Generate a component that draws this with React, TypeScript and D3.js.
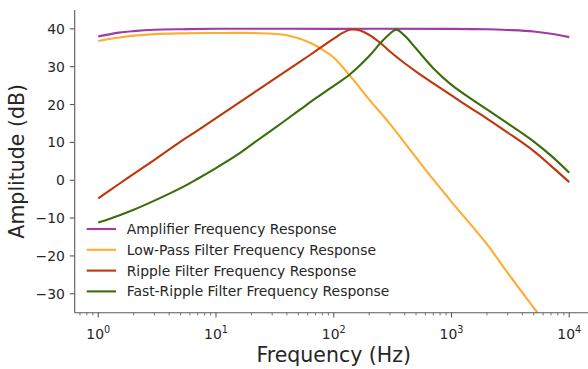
import * as d3 from 'd3';

const W = 588;
const H = 369;

// series (frequency in Hz, amplitude in dB)
const ampFreq = [1, 1.5, 2, 3, 5, 10, 100, 1000, 2000, 3000, 5000, 7000, 10000];
const ampDb = [38.0, 39.0, 39.4, 39.75, 39.9, 40, 40, 40, 39.9, 39.7, 39.3, 38.7, 37.8];

const lpFreq = [1, 1.5, 2, 3, 5, 10, 20, 30, 40, 50, 60, 70, 85, 100, 140, 200, 300, 500, 700, 1000, 2000, 3000, 5000, 7000];
const lpDb = [36.8, 37.7, 38.2, 38.6, 38.8, 38.9, 38.9, 38.7, 38.3, 37.5, 36.6, 35.6, 34.0, 32.4, 27.3, 21.3, 14.9, 6.0, 0.2, -5.7, -16.9, -24.5, -33.7, -39.5];

const rpFreq = [1, 1.5, 2, 3, 5, 7, 10, 20, 30, 50, 70, 100, 120, 140, 170, 200, 250, 300, 400, 500, 700, 1000, 1500, 2000, 3000, 5000, 7000, 10000];
const rpDb = [-4.8, -1.0, 1.7, 5.4, 10.2, 13.2, 16.4, 22.7, 26.4, 31.0, 34.1, 37.4, 39.0, 39.8, 39.5, 38.4, 36.2, 34.0, 30.9, 28.7, 25.6, 22.4, 18.8, 16.3, 12.6, 7.7, 3.8, -0.5];

const frFreq = [1, 1.5, 2, 3, 5, 7, 10, 15, 20, 30, 50, 70, 100, 140, 200, 250, 300, 340, 400, 500, 700, 1000, 1500, 2000, 3000, 5000, 7000, 10000];
const frDb = [-11.2, -9.3, -7.8, -5.4, -2.1, 0.4, 3.2, 6.6, 9.4, 13.3, 18.3, 21.6, 24.9, 28.2, 32.8, 36.3, 38.7, 39.8, 38.2, 34.8, 29.6, 25.2, 21.3, 18.7, 15.0, 10.2, 6.5, 2.0];

const seriesNames = [
  'Amplifier Frequency Response',
  'Low-Pass Filter Frequency Response',
  'Ripple Filter Frequency Response',
  'Fast-Ripple Filter Frequency Response',
];
const seriesColors = ['#a03aa6', '#ffac33', '#bf360c', '#3b6e0b'];
const seriesFreqs = [ampFreq, lpFreq, rpFreq, frFreq];
const seriesDb = [ampDb, lpDb, rpDb, frDb];

const xTickExps = [0, 1, 2, 3, 4];
const yTicks = [-30, -20, -10, 0, 10, 20, 30, 40];

const FONT = "'DejaVu Sans', sans-serif";
const TEXT = '#262626';
const AXIS = '#5a5a5a';

export default function App() {
  const left = 74.7;
  const top = 9.9;
  const bottom = 312.7;
  const right = 592.8;

  const x = d3.scaleLog().domain([10 ** -0.2, 10 ** 4.2]).range([left, right]);
  const y = d3.scaleLinear().domain([-35, 45]).range([bottom, top]);

  const minor: number[] = [];
  for (let e = -1; e <= 4; e++) {
    for (let m = 2; m <= 9; m++) {
      const v = m * 10 ** e;
      if (v >= x.domain()[0] && v <= x.domain()[1]) minor.push(v);
    }
  }

  const line = d3.line<[number, number]>()
    .x((d) => x(d[0]))
    .y((d) => y(d[1]))
    .curve(d3.curveCatmullRom.alpha(0.5));

  const legendX = 86.7;
  const legendY0 = 229;
  const legendStep = 20.8;

  return (
    <svg width={W} height={H} style={{ position: 'absolute', left: 0, top: 0, background: '#fff' }}
      fontFamily={FONT}>
      <defs>
        <clipPath id="plot">
          <rect x={left} y={top} width={right - left} height={bottom - top} />
        </clipPath>
      </defs>

      <g clipPath="url(#plot)">
        {seriesNames.map((name, i) => (
          <path key={name} fill="none" stroke={seriesColors[i]} strokeWidth={2.1}
            strokeLinejoin="round" strokeLinecap="butt"
            d={line(seriesFreqs[i].map((f, j) => [f, seriesDb[i][j]] as [number, number])) ?? ''} />
        ))}
      </g>

      {/* spines */}
      <line x1={left} x2={left} y1={top} y2={bottom} stroke={AXIS} strokeWidth={1.1} />
      <line x1={left} x2={right} y1={bottom} y2={bottom} stroke={AXIS} strokeWidth={1.1} />

      {/* y ticks */}
      {yTicks.map((t) => (
        <g key={t}>
          <line x1={left - 4.9} x2={left} y1={y(t)} y2={y(t)} stroke={AXIS} strokeWidth={1.1} />
          <text x={left - 9.8} y={y(t)} dy="0.36em" textAnchor="end" fontSize={13.9} fill={TEXT}>
            {t < 0 ? `\u2212${-t}` : `${t}`}
          </text>
        </g>
      ))}

      {/* x ticks */}
      {minor.map((v) => (
        <line key={v} x1={x(v)} x2={x(v)} y1={bottom} y2={bottom + 2.8} stroke={AXIS} strokeWidth={0.8} />
      ))}
      {xTickExps.map((e) => (
        <g key={e}>
          <line x1={x(10 ** e)} x2={x(10 ** e)} y1={bottom} y2={bottom + 4.9} stroke={AXIS} strokeWidth={1.1} />
          <text x={x(10 ** e)} y={339.3} textAnchor="middle" fontSize={13.9} fill={TEXT}>
            <tspan>10</tspan>
            <tspan dy={-6.2} fontSize={9.7}>{e}</tspan>
          </text>
        </g>
      ))}

      {/* axis labels */}
      <text x={(left + right) / 2} y={361.7} textAnchor="middle" fontSize={20.5} fill={TEXT}>Frequency (Hz)</text>
      <text transform={`translate(24,${(top + bottom) / 2}) rotate(-90)`} textAnchor="middle" fontSize={20.5} fill={TEXT}>
        Amplitude (dB)
      </text>

      {/* legend */}
      {seriesNames.map((name, i) => (
        <g key={name} transform={`translate(${legendX},${legendY0 + i * legendStep})`}>
          <line x1={0} x2={29.3} y1={0} y2={0} stroke={seriesColors[i]} strokeWidth={2.1} />
          <text x={40} y={0} dy="0.36em" fontSize={13.9} fill={TEXT}>{name}</text>
        </g>
      ))}
    </svg>
  );
}
